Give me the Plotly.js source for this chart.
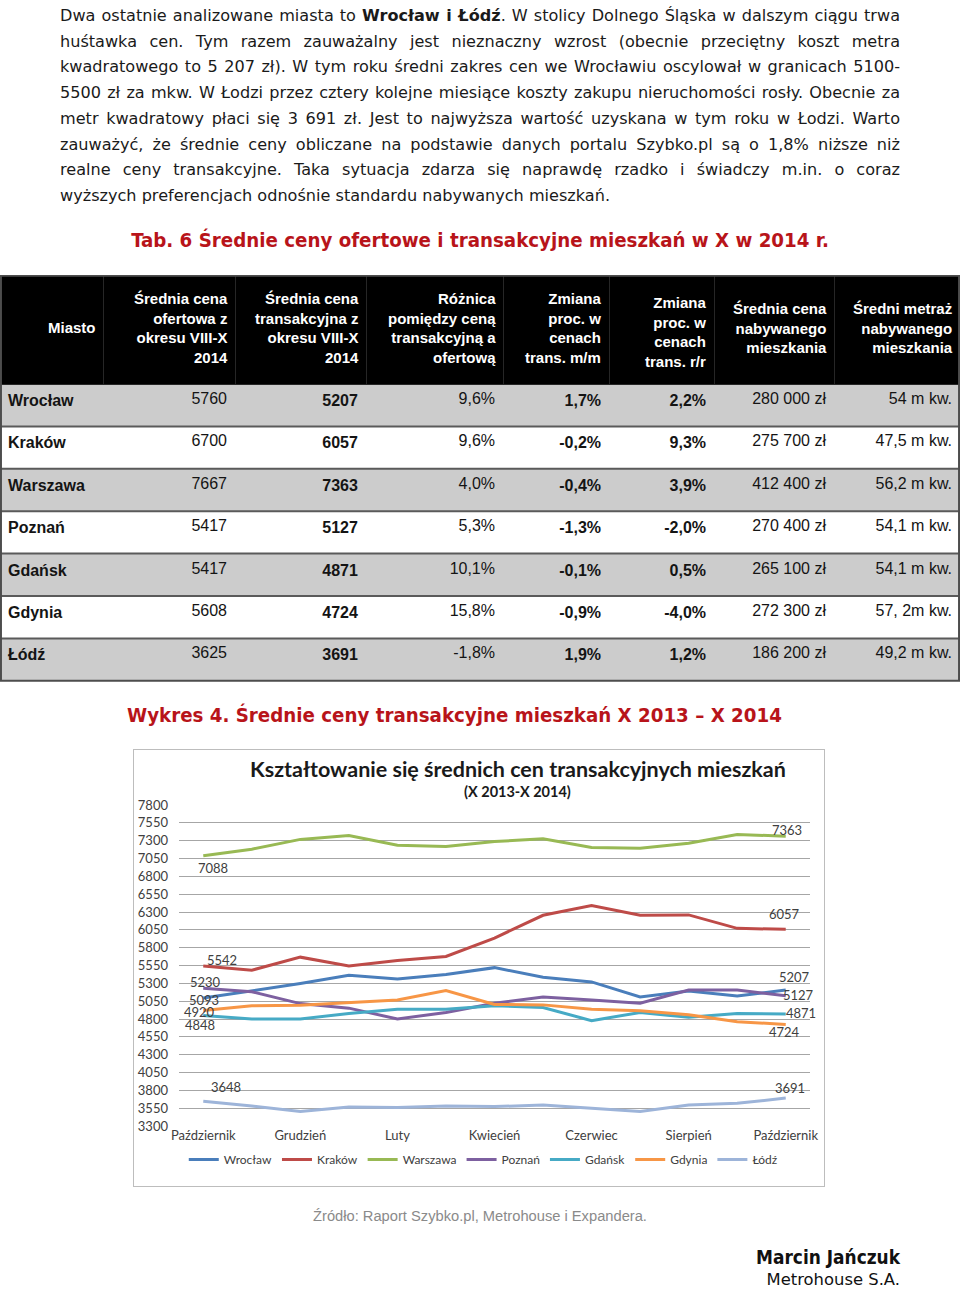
<!DOCTYPE html>
<html>
<head>
<meta charset="utf-8">
<script src="https://cdn.plot.ly/plotly-3.0.1.min.js"></script>
<style>
  body { margin:0; width:960px; height:1291px; position:relative; background:#fff; overflow:hidden; }
  .tekst { position:absolute; left:60px; top:3px; width:840px; font-family:"DejaVu Sans"; font-size:16.1px; line-height:25.7px; color:#1a1a1a; }
  .tekst div { text-align:justify; text-align-last:justify; white-space:nowrap; }
  .tekst div.ost { text-align-last:left; }
  .tyt { position:absolute; font-family:"DejaVu Sans"; font-weight:bold; font-stretch:condensed; color:#b8141a; font-size:20.3px; white-space:nowrap; }
  #tabela { position:absolute; left:0; top:275px; width:960px; height:408px; }
  #ramka { position:absolute; left:133px; top:749px; width:690px; height:436px; border:1px solid #bdbdbd; }
  #wykres { position:absolute; left:0; top:0; width:690px; height:436px; }
  .zrodlo { position:absolute; top:1208px; left:0; width:960px; text-align:center; font-family:"Liberation Sans"; font-size:14.7px; color:#8a8a8a; }
  .autor { position:absolute; right:60px; text-align:right; font-family:"DejaVu Sans"; font-size:16.4px; color:#111; white-space:nowrap; }
</style>
</head>
<body>

<div class="tekst">
  <div>Dwa ostatnie analizowane miasta to <b>Wrocław i Łódź</b>. W stolicy Dolnego Śląska w dalszym ciągu trwa</div>
  <div>huśtawka cen. Tym razem zauważalny jest nieznaczny wzrost (obecnie przeciętny koszt metra</div>
  <div>kwadratowego to 5 207 zł). W tym roku średni zakres cen we Wrocławiu oscylował w granicach 5100-</div>
  <div>5500 zł za mkw. W Łodzi przez cztery kolejne miesiące koszty zakupu nieruchomości rosły. Obecnie za</div>
  <div>metr kwadratowy płaci się 3 691 zł. Jest to najwyższa wartość uzyskana w tym roku w Łodzi. Warto</div>
  <div>zauważyć, że średnie ceny obliczane na podstawie danych portalu Szybko.pl są o 1,8% niższe niż</div>
  <div>realne ceny transakcyjne. Taka sytuacja zdarza się naprawdę rzadko i świadczy m.in. o coraz</div>
  <div class="ost">wyższych preferencjach odnośnie standardu nabywanych mieszkań.</div>
</div>

<div class="tyt" style="left:0;width:960px;text-align:center;top:228px;">Tab. 6 Średnie ceny ofertowe i transakcyjne mieszkań w X w 2014 r.</div>

<div id="tabela"></div>

<div class="tyt" style="left:127px;top:703px;">Wykres 4. Średnie ceny transakcyjne mieszkań X 2013 – X 2014</div>

<div id="ramka"><div id="wykres"></div></div>

<div class="zrodlo">Źródło: Raport Szybko.pl, Metrohouse i Expandera.</div>
<div class="autor" style="top:1246px;font-weight:bold;font-stretch:condensed;font-size:18.9px;">Marcin Jańczuk</div>
<div class="autor" style="top:1270px;">Metrohouse S.A.</div>

<script>
// ---- dane tabeli ----
var miasta = ['Wrocław', 'Kraków', 'Warszawa', 'Poznań', 'Gdańsk', 'Gdynia', 'Łódź'];
var cenaOfertowa = [5760, 6700, 7667, 5417, 5417, 5608, 3625];
var cenaTransakcyjna = [5207, 6057, 7363, 5127, 4871, 4724, 3691];
var roznica = ['9,6%', '9,6%', '4,0%', '5,3%', '10,1%', '15,8%', '-1,8%'];
var zmianaMM = ['1,7%', '-0,2%', '-0,4%', '-1,3%', '-0,1%', '-0,9%', '1,9%'];
var zmianaRR = ['2,2%', '9,3%', '3,9%', '-2,0%', '0,5%', '-4,0%', '1,2%'];
var cenaMieszkania = ['280 000 zł', '275 700 zł', '412 400 zł', '270 400 zł', '265 100 zł', '272 300 zł', '186 200 zł'];
var metraz = ['54 m kw.', '47,5 m kw.', '56,2 m kw.', '54,1 m kw.', '54,1 m kw.', '57, 2m kw.', '49,2 m kw.'];

var naglowki = [
  'Miasto',
  'Średnia cena<br>ofertowa z<br>okresu VIII-X<br>2014',
  'Średnia cena<br>transakcyjna z<br>okresu VIII-X<br>2014',
  'Różnica<br>pomiędzy ceną<br>transakcyjną a<br>ofertową',
  'Zmiana<br>proc. w<br>cenach<br>trans. m/m',
  'Zmiana<br>proc. w<br>cenach<br>trans. r/r',
  'Średnia cena<br>nabywanego<br>mieszkania',
  'Średni metraż<br>nabywanego<br>mieszkania'
];

// ---- dane wykresu ----
var miesiace = ['Październik', 'Listopad', 'Grudzień', 'Styczeń', 'Luty', 'Marzec', 'Kwiecień',
                'Maj', 'Czerwiec', 'Lipiec', 'Sierpień', 'Wrzesień', 'Październik'];
var wroclaw  = [5093, 5191, 5297, 5412, 5361, 5425, 5520, 5384, 5320, 5108, 5191, 5122, 5207];
var krakow   = [5542, 5484, 5667, 5543, 5621, 5676, 5935, 6254, 6392, 6254, 6259, 6071, 6057];
var warszawa = [7088, 7181, 7318, 7373, 7236, 7218, 7287, 7328, 7204, 7195, 7263, 7387, 7363];
var poznan   = [5230, 5182, 5016, 4952, 4800, 4892, 5022, 5108, 5067, 5021, 5205, 5205, 5127];
var gdansk   = [4848, 4800, 4800, 4878, 4938, 4938, 4985, 4961, 4777, 4892, 4823, 4878, 4871];
var gdynia   = [4920, 4984, 4993, 5030, 5067, 5198, 5005, 4998, 4938, 4915, 4860, 4763, 4724];
var lodz     = [3648, 3581, 3503, 3567, 3558, 3581, 3572, 3595, 3549, 3503, 3595, 3618, 3691];

// ================= tabela =================
var szare = '#cccccc';
var rowFill = miasta.map(function(_, i) { return i % 2 === 0 ? szare : '#ffffff'; });
var fillGrid = naglowki.map(function() { return rowFill; });

function pogrub(arr) { return arr.map(function(v) { return '<b>' + v + '</b>'; }); }

var szerokosci = [103, 132, 131, 137, 106, 105, 120, 126];
var headerH = 109;
var rowH = 42.4;
var tabH = 408;

// linie między wierszami + ramka
var linie = [];
for (var k = 1; k < miasta.length; k++) {
  var yy = 1 - (headerH + rowH * k) / tabH;
  linie.push({type: 'line', xref: 'paper', yref: 'paper', x0: 0, x1: 1, y0: yy, y1: yy,
              line: {color: '#5a5a5a', width: 2}, layer: 'above'});
}
linie.push({type: 'rect', xref: 'paper', yref: 'paper', x0: 0.001, x1: 0.999,
            y0: 1 - (headerH + rowH * miasta.length) / tabH, y1: 0.998,
            line: {color: '#4d4d4d', width: 2}, layer: 'above'});

// teksty nagłówka jako adnotacje (wyrównane do prawej, wyśrodkowane w pionie)
var srodekY = [53, 53, 53, 53, 53, 57.5, 53, 53];
var naglowekAdn = [];
var krawedz = 0;
naglowki.forEach(function(t, i) {
  krawedz += szerokosci[i];
  naglowekAdn.push({xref: 'paper', yref: 'paper', x: (krawedz - 5) / 960, y: 1 - srodekY[i] / tabH,
                    xanchor: 'right', yanchor: 'middle', align: 'right', showarrow: false,
                    text: '<b>' + t + '</b>',
                    font: {family: 'Liberation Sans, Arial', size: 15, color: '#ffffff'}});
});

Plotly.newPlot('tabela', [{
  type: 'table',
  columnwidth: szerokosci,
  domain: {x: [0, 1], y: [0, 1]},
  header: {
    values: naglowki.map(function() { return ''; }),
    height: headerH,
    fill: {color: '#000000'},
    line: {color: '#262626', width: 1}
  },
  cells: {
    values: [pogrub(miasta), cenaOfertowa, pogrub(cenaTransakcyjna), roznica,
             pogrub(zmianaMM), pogrub(zmianaRR), cenaMieszkania, metraz],
    align: ['left', 'right', 'right', 'right', 'right', 'right', 'right', 'right'],
    height: rowH,
    fill: {color: fillGrid},
    line: {color: fillGrid, width: 1},
    font: {family: 'Liberation Sans, Arial', size: 16, color: '#141414'}
  }
}], {
  width: 960, height: tabH,
  margin: {l: 0, r: 0, t: 0, b: 0},
  paper_bgcolor: 'rgba(0,0,0,0)',
  shapes: linie,
  annotations: naglowekAdn
}, {staticPlot: true, displayModeBar: false});

// ================= wykres =================
var serie = [
  {name: 'Wrocław',  y: wroclaw,  color: '#4a7ebb'},
  {name: 'Kraków',   y: krakow,   color: '#be4b48'},
  {name: 'Warszawa', y: warszawa, color: '#98b954'},
  {name: 'Poznań',   y: poznan,   color: '#7d60a0'},
  {name: 'Gdańsk',   y: gdansk,   color: '#46aac5'},
  {name: 'Gdynia',   y: gdynia,   color: '#f79646'},
  {name: 'Łódź',     y: lodz,     color: '#9db4d9'}
];

// przesunięcia etykiet (px): [pierwsza dx, dy, ostatnia dx, dy]
var przesun = {
  'Wrocław':  [1, -2, 9, 13],
  'Kraków':   [19, 6, -1, 15],
  'Warszawa': [10, -12, 1, 6],
  'Poznań':   [2, 6, 13, 1],
  'Gdańsk':   [-3, -9, 15, 1],
  'Gdynia':   [-4, -2, -1, -8],
  'Łódź':     [23, 14, 4, 10]
};

var idx = miesiace.map(function(_, i) { return i; });
var tickIdx = idx.filter(function(i) { return i % 2 === 0; });

var fontWyk = 'Lato, "Open Sans", sans-serif';

var traces = serie.map(function(s) {
  return {
    x: idx, y: s.y, type: 'scatter', mode: 'lines', name: s.name,
    line: {color: s.color, width: 3}
  };
});

var adnotacje = [];
serie.forEach(function(s) {
  var p = przesun[s.name];
  var last = s.y.length - 1;
  adnotacje.push({x: 0, y: s.y[0], text: String(s.y[0]), showarrow: false,
                  xshift: p[0], yshift: p[1], font: {family: fontWyk, size: 13, color: '#404040'}});
  adnotacje.push({x: last, y: s.y[last], text: String(s.y[last]), showarrow: false,
                  xshift: p[2], yshift: p[3], font: {family: fontWyk, size: 13, color: '#404040'}});
});
adnotacje.push({xref: 'paper', yref: 'paper', x: 0.537, y: 1.113, yanchor: 'middle', showarrow: false,
                text: '<b>Kształtowanie się średnich cen transakcyjnych mieszkań</b>',
                font: {family: fontWyk, size: 21.5, color: '#1a1a1a'}});
adnotacje.push({xref: 'paper', yref: 'paper', x: 0.537, y: 1.043, yanchor: 'middle', showarrow: false,
                text: '<b>(X 2013-X 2014)</b>',
                font: {family: fontWyk, size: 14.5, color: '#1a1a1a'}});

var layout = {
  width: 690, height: 436,
  margin: {l: 45, r: 14, t: 55, b: 54},
  paper_bgcolor: '#ffffff',
  plot_bgcolor: '#ffffff',
  font: {family: fontWyk, size: 13, color: '#404040'},
  showlegend: true,
  legend: {orientation: 'h', x: 0.483, xanchor: 'center', y: -0.104, yanchor: 'middle',
           font: {family: fontWyk, size: 12, color: '#404040'}, itemwidth: 30},
  xaxis: {range: [-0.5, 12.5], tickvals: tickIdx, ticktext: tickIdx.map(function(i) { return miesiace[i]; }),
          showgrid: false, zeroline: false, showline: false, ticks: '',
          tickfont: {size: 13, color: '#404040'}},
  yaxis: {range: [3300, 7800], dtick: 250, tick0: 3300, showgrid: true, gridcolor: '#a6a6a6', gridwidth: 1,
          zeroline: false, showline: false, ticks: '', ticklabelstandoff: 10,
          tickfont: {size: 13, color: '#404040'}},
  annotations: adnotacje
};

Plotly.newPlot('wykres', traces, layout, {staticPlot: true, displayModeBar: false});
</script>
</body>
</html>
